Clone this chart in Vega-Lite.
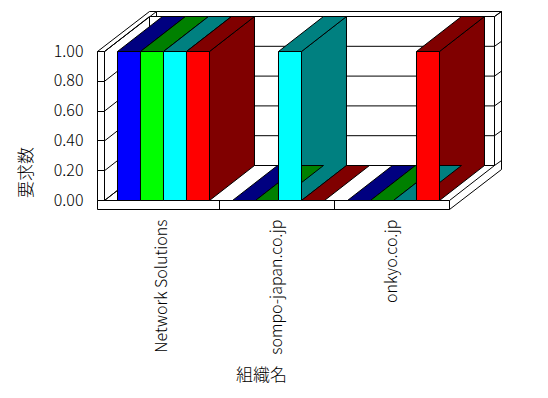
{
  "$schema": "https://vega.github.io/schema/vega-lite/v6.json",
  "width": 345,
  "height": 149,
  "autosize": {"type": "none"},
  "padding": {"left": 104.5, "top": 51.5, "right": 98.5, "bottom": 197.5},
  "background": "white",
  "config": {"view": {"stroke": null}, "font": "Noto Sans CJK JP"},
  "datasets": {
    "bars": [
      {"org": "Network Solutions", "series": "系列1", "value": 1},
      {"org": "Network Solutions", "series": "系列2", "value": 1},
      {"org": "Network Solutions", "series": "系列3", "value": 1},
      {"org": "Network Solutions", "series": "系列4", "value": 1},
      {"org": "sompo-japan.co.jp", "series": "系列1", "value": 0},
      {"org": "sompo-japan.co.jp", "series": "系列2", "value": 0},
      {"org": "sompo-japan.co.jp", "series": "系列3", "value": 1},
      {"org": "sompo-japan.co.jp", "series": "系列4", "value": 0},
      {"org": "onkyo.co.jp", "series": "系列1", "value": 0},
      {"org": "onkyo.co.jp", "series": "系列2", "value": 0},
      {"org": "onkyo.co.jp", "series": "系列3", "value": 0},
      {"org": "onkyo.co.jp", "series": "系列4", "value": 1}
    ],
    "ticks": [{"tick": 0}, {"tick": 0.2}, {"tick": 0.4}, {"tick": 0.6}, {"tick": 0.8}, {"tick": 1}],
    "one": [{"lo": 0}]
  },
  "resolve": {"scale": {"fill": "independent"}, "axis": {"x": "independent", "y": "independent"}},
  "layer": [
    {
      "data": {"name": "one"},
      "mark": {"type": "rect", "fill": "white", "stroke": "black", "strokeWidth": 1, "opacity": 1,
               "xOffset": 52, "x2Offset": 52, "yOffset": -40, "y2Offset": -40},
      "encoding": {
        "x": {"value": 0}, "x2": {"value": "width"},
        "y": {"datum": 0, "type": "quantitative", "axis": null, "scale": {"domain": [0, 1], "nice": false}},
        "y2": {"datum": 1}
      }
    },
    {
      "data": {"name": "one"},
      "mark": {"type": "point", "shape": "M45,-184L52,-189L52,-31L0,9L0,0L45,-35Z", "size": 4,
               "filled": true, "fill": "white", "stroke": "black", "strokeWidth": 1, "opacity": 1},
      "encoding": {"x": {"value": "width"}, "y": {"datum": 0, "type": "quantitative", "axis": null}}
    },
    {
      "data": {"name": "one"},
      "mark": {"type": "rect", "fill": "white", "stroke": "black", "strokeWidth": 1, "opacity": 1,
               "xOffset": 45, "x2Offset": 45, "yOffset": -35, "y2Offset": -35},
      "encoding": {
        "x": {"value": 0}, "x2": {"value": "width"},
        "y": {"datum": 0, "type": "quantitative", "axis": null}, "y2": {"datum": 1}
      }
    },
    {
      "data": {"name": "ticks"},
      "mark": {"type": "rule", "color": "black", "strokeWidth": 1, "opacity": 1,
               "xOffset": 45, "x2Offset": 45, "yOffset": -35},
      "encoding": {
        "x": {"value": 0}, "x2": {"value": "width"},
        "y": {"field": "tick", "type": "quantitative", "axis": null}
      }
    },
    {
      "data": {"name": "one"},
      "mark": {"type": "point", "shape": "M0,0L0,-149L45,-184L45,-35Z", "size": 4,
               "filled": true, "fill": "white", "stroke": "black", "strokeWidth": 1, "opacity": 1},
      "encoding": {"x": {"value": 0}, "y": {"datum": 0, "type": "quantitative", "axis": null}}
    },
    {
      "data": {"name": "one"},
      "mark": {"type": "point", "shape": "M-7,0L0,0L52,-40L45,-40Z", "size": 4,
               "filled": true, "fill": "white", "stroke": "black", "strokeWidth": 1, "opacity": 1},
      "encoding": {"x": {"value": 0}, "y": {"datum": 1, "type": "quantitative", "axis": null}}
    },
    {
      "data": {"name": "ticks"},
      "mark": {"type": "point", "shape": "M0,0L45,-35", "size": 4,
               "filled": false, "stroke": "black", "strokeWidth": 1, "opacity": 1},
      "encoding": {"x": {"value": 0}, "y": {"field": "tick", "type": "quantitative", "axis": null}}
    },
    {
      "data": {"name": "ticks"},
      "mark": {"type": "point", "shape": "M45,-35L52,-40", "size": 4,
               "filled": false, "stroke": "black", "strokeWidth": 1, "opacity": 1},
      "encoding": {"x": {"value": "width"}, "y": {"field": "tick", "type": "quantitative", "axis": null}}
    },
    {
      "data": {"name": "one"},
      "mark": {"type": "rect", "fill": "white", "stroke": "black", "strokeWidth": 1, "opacity": 1,
               "xOffset": -7},
      "encoding": {
        "x": {"value": 0}, "x2": {"value": 0},
        "y": {"datum": 0, "type": "quantitative", "axis": null}, "y2": {"datum": 1}
      }
    },
    {
      "data": {"name": "one"},
      "mark": {"type": "rect", "fill": "white", "stroke": "black", "strokeWidth": 1, "opacity": 1,
               "xOffset": -7, "y2Offset": 9},
      "encoding": {
        "x": {"value": 0}, "x2": {"value": "width"},
        "y": {"datum": 0, "type": "quantitative", "axis": null}, "y2": {"datum": 0}
      }
    },
    {
      "data": {"name": "bars"},
      "transform": [{"filter": "datum.org !== 'Network Solutions'"}],
      "mark": {"type": "rule", "color": "black", "strokeWidth": 1, "opacity": 1, "y2Offset": 9},
      "encoding": {
        "x": {"field": "org", "type": "nominal", "bandPosition": 0, "axis": null,
              "scale": {"domain": ["Network Solutions", "sompo-japan.co.jp", "onkyo.co.jp"], "paddingInner": 0, "paddingOuter": 0}},
        "y": {"datum": 0, "type": "quantitative", "axis": null}, "y2": {"datum": 0}
      }
    },
    {
      "data": {"name": "bars"},
      "transform": [{"filter": "datum.value > 0"}],
      "mark": {"type": "point", "shape": "M11.5,0L56.5,-35L56.5,114L11.5,149Z", "size": 4,
               "filled": true, "stroke": "black", "strokeWidth": 1, "opacity": 1},
      "encoding": {
        "x": {"field": "org", "type": "nominal", "axis": null,
              "scale": {"domain": ["Network Solutions", "sompo-japan.co.jp", "onkyo.co.jp"], "paddingInner": 0, "paddingOuter": 0}},
        "xOffset": {"field": "series", "type": "nominal",
              "scale": {"domain": ["系列1", "系列2", "系列3", "系列4"], "paddingInner": 0, "paddingOuter": 0.5, "align": 0.565}},
        "y": {"field": "value", "type": "quantitative", "axis": null},
        "fill": {"field": "series", "type": "nominal", "legend": null,
              "scale": {"domain": ["系列1", "系列2", "系列3", "系列4"], "range": ["#000080", "#008000", "#008080", "#800000"]}}
      }
    },
    {
      "data": {"name": "bars"},
      "mark": {"type": "point", "shape": "M-11.5,0L11.5,0L56.5,-35L33.5,-35Z", "size": 4,
               "filled": true, "stroke": "black", "strokeWidth": 1, "opacity": 1},
      "encoding": {
        "x": {"field": "org", "type": "nominal", "axis": null,
              "scale": {"domain": ["Network Solutions", "sompo-japan.co.jp", "onkyo.co.jp"], "paddingInner": 0, "paddingOuter": 0}},
        "xOffset": {"field": "series", "type": "nominal",
              "scale": {"domain": ["系列1", "系列2", "系列3", "系列4"], "paddingInner": 0, "paddingOuter": 0.5, "align": 0.565}},
        "y": {"field": "value", "type": "quantitative", "axis": null},
        "fill": {"field": "series", "type": "nominal", "legend": null,
              "scale": {"domain": ["系列1", "系列2", "系列3", "系列4"], "range": ["#000080", "#008000", "#008080", "#800000"]}}
      }
    },
    {
      "data": {"name": "bars"},
      "mark": {"type": "bar", "stroke": "black", "strokeWidth": 1, "opacity": 1},
      "encoding": {
        "x": {"field": "org", "type": "nominal",
              "scale": {"domain": ["Network Solutions", "sompo-japan.co.jp", "onkyo.co.jp"], "paddingInner": 0, "paddingOuter": 0},
              "axis": {"title": "組織名", "labelAngle": -90, "domain": false, "ticks": false, "grid": false,
                       "labelPadding": 19, "labelFontSize": 16, "labelFontWeight": 300, "labelColor": "black", "labelFont": "Noto Sans CJK JP",
                       "titleFont": "Noto Sans CJK JP", "titleFontSize": 17, "titleFontWeight": 300, "titleColor": "black",
                       "titleX": 157, "titleY": 175, "titleAlign": "center", "titleBaseline": "middle", "translate": 0}},
        "xOffset": {"field": "series", "type": "nominal",
              "scale": {"domain": ["系列1", "系列2", "系列3", "系列4"], "paddingInner": 0, "paddingOuter": 0.5, "align": 0.565}},
        "y": {"field": "value", "type": "quantitative",
              "axis": {"title": "要求数", "values": [0, 0.2, 0.4, 0.6, 0.8, 1], "format": ".2f", "grid": false, "domain": false,
                       "ticks": true, "tickSize": 7, "tickColor": "black", "labelColor": "black", "labelFont": "Noto Sans CJK JP",
                       "labelFontSize": 16, "labelFontWeight": 300, "labelPadding": 14, "titleFont": "Noto Sans CJK JP", "titleFontSize": 17,
                       "titleFontWeight": 300, "titleColor": "black", "titleAngle": 270, "titleX": -78, "titleY": 121,
                       "titleAlign": "center", "titleBaseline": "middle", "zindex": 1, "translate": 0}},
        "fill": {"field": "series", "type": "nominal", "legend": null,
              "scale": {"domain": ["系列1", "系列2", "系列3", "系列4"], "range": ["#0000FF", "#00FF00", "#00FFFF", "#FF0000"]}}
      }
    }
  ]
}
